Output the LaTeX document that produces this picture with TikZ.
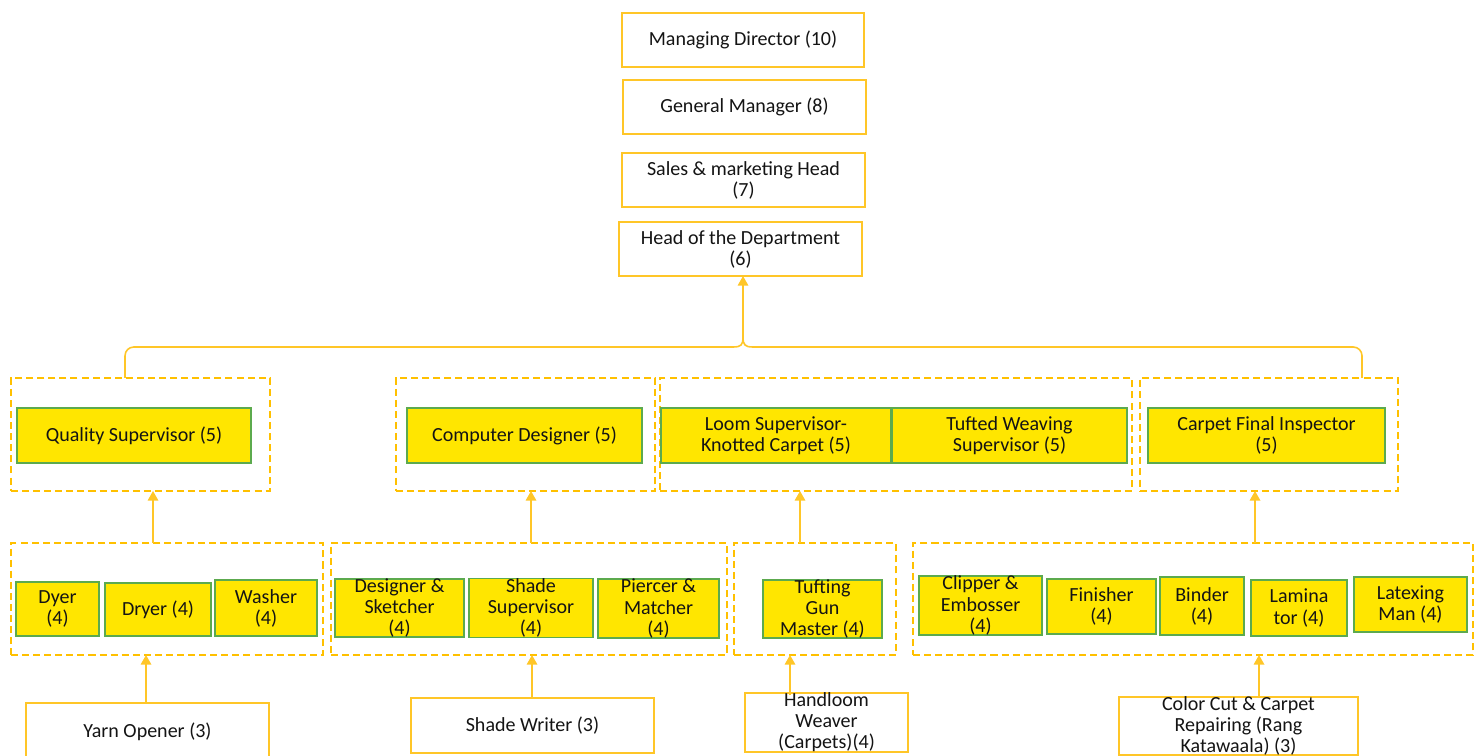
\documentclass[tikz,border=0pt]{standalone}
\usepackage{fontspec}
\setmainfont{Carlito}
\usetikzlibrary{arrows.meta}
\definecolor{gold}{RGB}{255,198,40}
\definecolor{dashcol}{RGB}{255,192,0}
\definecolor{yel}{RGB}{255,230,0}
\definecolor{grn}{RGB}{92,170,78}
\definecolor{txt}{RGB}{20,20,20}
\newcommand\bx[7]{\node[#6, minimum width={(#4-#2)*0.02cm}, minimum height={(#5-#3)*0.02cm}] (#1) at ({(#2+#4)/2},{(#3+#5)/2}) {#7};}
\begin{document}
\begin{tikzpicture}[x=0.02cm,y=-0.02cm,
 every node/.style={font=\fontsize{11.4}{12}\selectfont, text=txt, align=center, inner sep=0pt, outer sep=0pt},
 topbox/.style={draw=gold, line width=1.1pt, fill=white},
 rolebox/.style={draw=grn, line width=1pt, fill=yel},
 groupbox/.style={draw=dashcol, line width=1.4pt, dash pattern=on 4pt off 2.3pt},
 link/.style={draw=gold, line width=0.9pt, -{Triangle[width=6pt,length=5.5pt]}},
 brace/.style={draw=gold, line width=0.9pt}]
\useasboundingbox (0,0) rectangle (1480,756);
% top chain
\bx{MD}{622}{13}{864}{67}{topbox}{Managing Director (10)}
\bx{GM}{623}{80}{866}{134}{topbox}{General Manager (8)}
\bx{SM}{622}{153}{865}{207}{topbox}{Sales \& marketing Head\\(7)}
\bx{HoD}{619}{222}{862}{276}{topbox}{Head of the Department\\(6)}
% group boxes row 1
\bx{G1}{11}{378}{270}{491}{groupbox}{}
\bx{G2}{396}{378}{655}{491}{groupbox}{}
\bx{G3}{660}{378}{1132}{491}{groupbox}{}
\bx{G4}{1140}{378}{1398}{491}{groupbox}{}
% group boxes row 2
\bx{H1}{11}{543}{323}{655}{groupbox}{}
\bx{H2}{331}{543}{727}{655}{groupbox}{}
\bx{H3}{734}{543}{896}{655}{groupbox}{}
\bx{H4}{913}{543}{1473}{655}{groupbox}{}
% row 1 roles
\bx{QS}{17}{408}{251}{463}{rolebox}{Quality Supervisor (5)}
\bx{CD}{407}{408}{642}{463}{rolebox}{Computer Designer (5)}
\bx{LS}{661}{408}{891}{463}{rolebox}{Loom Supervisor-\\Knotted Carpet (5)}
\bx{TW}{892}{408}{1127}{463}{rolebox}{Tufted Weaving\\Supervisor (5)}
\bx{CF}{1148}{408}{1385}{463}{rolebox}{Carpet Final Inspector\\(5)}
% row 2 roles
\bx{Dyer}{16}{582}{99}{636}{rolebox}{Dyer\\(4)}
\bx{Dryer}{105}{583}{211}{636}{rolebox}{Dryer (4)}
\bx{Washer}{215}{580}{317}{636}{rolebox}{Washer\\(4)}
\bx{DS}{335}{581}{464}{635}{rolebox}{Designer \&\\Sketcher\\(4)}
\bx{SS}{469}{581}{593}{635}{rolebox}{Shade\\Supervisor\\(4)}
\bx{PM}{598}{581}{719}{636}{rolebox}{Piercer \&\\Matcher\\(4)}
\bx{TG}{763}{581}{882}{637}{rolebox}{Tufting\\Gun\\Master (4)}
\bx{CE}{919}{577}{1042}{634}{rolebox}{Clipper \&\\Embosser\\(4)}
\bx{Fin}{1047}{579}{1156}{634}{rolebox}{Finisher\\(4)}
\bx{Bin}{1160}{577}{1244}{635}{rolebox}{Binder\\(4)}
\bx{Lam}{1251}{580}{1347}{636}{rolebox}{Lamina\\tor (4)}
\bx{Lat}{1354}{577}{1467}{632}{rolebox}{Latexing\\Man (4)}
% row 3
\bx{YO}{26}{703}{269}{760}{topbox}{Yarn Opener (3)}
\bx{SW}{411}{698}{654}{753}{topbox}{Shade Writer (3)}
\bx{HW}{745}{695}{908}{750}{topbox}{Handloom\\Weaver\\(Carpets)(4)}
\bx{CC}{1119}{698}{1358}{754}{topbox}{Color Cut \& Carpet\\Repairing (Rang\\Katawaala) (3)}
% brace
\coordinate (bl) at (125,347);
\coordinate (br) at (1362,347);
\coordinate (tip) at (743,337);
\draw[brace, rounded corners=5pt] (bl |- G1.north) -- (bl) -- (733,347);
\draw[brace, rounded corners=5pt] (br |- G4.north) -- (br) -- (753,347);
\draw[brace] (733,347) .. controls (741,347) and (743,345) .. (tip);
\draw[brace] (753,347) .. controls (745,347) and (743,345) .. (tip);
\draw[link] (tip) -- (tip |- HoD.south);
% row 2 -> row 1
\coordinate (a1) at (153,543);
\coordinate (a2) at (531,543);
\coordinate (a3) at (800,543);
\coordinate (a4) at (1255,543);
\draw[link] (a1) -- (a1 |- G1.south);
\draw[link] (a2) -- (a2 |- G2.south);
\draw[link] (a3) -- (a3 |- G3.south);
\draw[link] (a4) -- (a4 |- G4.south);
% row 3 -> row 2
\coordinate (b1) at (146,703);
\coordinate (b2) at (532,698);
\coordinate (b3) at (790,695);
\coordinate (b4) at (1259,698);
\draw[link] (b1) -- (b1 |- H1.south);
\draw[link] (b2) -- (b2 |- H2.south);
\draw[link] (b3) -- (b3 |- H3.south);
\draw[link] (b4) -- (b4 |- H4.south);
\end{tikzpicture}
\end{document}
